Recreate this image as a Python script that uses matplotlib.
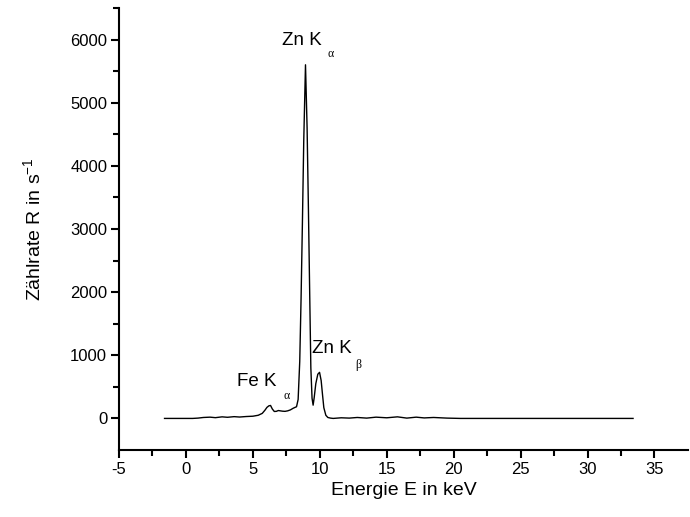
import numpy as np
import matplotlib.pyplot as plt

plt.rcParams['font.family'] = ['Liberation Sans', 'DejaVu Sans']
plt.rcParams['axes.unicode_minus'] = False

# spectrum (energy in keV, count rate in 1/s)
energy = [-1.6, -0.5, 0.5, 0.9, 1.3, 1.8, 2.2, 2.7, 3.1, 3.6, 4.0, 4.5, 5.0,
          5.4, 5.7, 5.9, 6.05, 6.2, 6.32, 6.45, 6.6, 6.75, 6.9, 7.05, 7.2,
          7.4, 7.6, 7.8, 8.0, 8.15, 8.26, 8.38, 8.5, 8.6, 8.7, 8.8, 8.93,
          9.05, 9.15, 9.25, 9.33, 9.42, 9.5, 9.58, 9.7, 9.85, 9.98, 10.1,
          10.2, 10.3, 10.45, 10.6, 10.8, 11.0, 11.6, 12.2, 12.8, 13.5, 14.2,
          15.0, 15.8, 16.5, 17.2, 17.8, 18.5, 19.5, 20.5, 24.0, 28.0, 33.4]
rate = [0, 0, 0, 5, 15, 20, 12, 25, 18, 28, 22, 30, 35,
        50, 80, 130, 175, 200, 205, 150, 110, 112, 125, 120, 115,
        112, 120, 135, 160, 175, 185, 300, 900, 1900, 3100, 4400, 5600,
        4600, 3300, 1900, 800, 320, 210, 330, 550, 700, 730, 600,
        380, 170, 50, 15, 5, 0, 10, 5, 15, 5, 20,
        10, 25, 5, 20, 8, 15, 5, 0, 0, 0, 0]

fig = plt.figure(figsize=(6.9, 5.17), dpi=100)
ax = fig.add_axes([0.1725, 0.1296, 0.8245, 0.855])

ax.plot(energy, rate, color='black', linewidth=1.0)

ax.set_xlim(-5, 37.5)
ax.set_ylim(-500, 6500)
ax.set_xticks(np.arange(-5, 36, 5))
ax.set_xticks(np.arange(-2.5, 37.5, 5), minor=True)
ax.set_yticks(np.arange(0, 6001, 1000))
ax.set_yticks(np.arange(500, 6501, 1000), minor=True)

for s in ['top', 'right']:
    ax.spines[s].set_visible(False)
for s in ['left', 'bottom']:
    ax.spines[s].set_linewidth(1.5)
ax.tick_params(which='major', direction='out', length=6, width=1.5,
               labelsize=12, pad=2.5)
ax.tick_params(which='minor', direction='out', length=4, width=1.5)

ax.set_xlabel('Energie E in keV', fontsize=14, labelpad=4)
ax.set_ylabel(r'Zählrate R in s$^{\mathregular{-1}}$', fontsize=14, labelpad=18)

# peak labels, subscripts drawn separately so they sit low and small
sub = dict(fontsize=8.5, va='center', family='Liberation Serif')
ax.text(7.15, 5980, 'Zn K', fontsize=13.5, va='center')
ax.text(10.55, 5770, 'α', **sub)
ax.text(3.8, 585, 'Fe K', fontsize=13.5, va='center')
ax.text(7.25, 360, 'α', **sub)
ax.text(9.4, 1110, 'Zn K', fontsize=13.5, va='center')
ax.text(12.65, 840, 'β', **sub)

fig.savefig('out.png', dpi=100)
